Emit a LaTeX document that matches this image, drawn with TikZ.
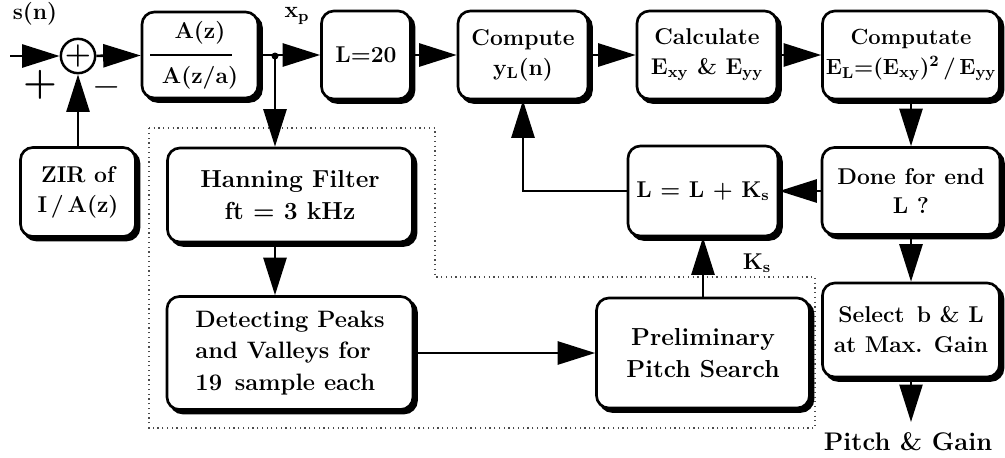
\documentclass[tikz,border=0pt]{standalone}
\usepackage{tikz}
\usetikzlibrary{arrows.meta}
\tikzset{
  blk/.style={draw, line width=1.5pt, rounded corners=7pt, fill=white,
    preaction={draw, fill=black, transform canvas={shift={(0.07cm,-0.07cm)}}},
    align=center, inner sep=1pt, font=\bfseries\fontsize{13}{17}\selectfont},
  bigtxt/.style={font=\bfseries\fontsize{14}{18}\selectfont},
  sumnode/.style={draw, circle, line width=1.4pt, minimum size=0.56cm, inner sep=0pt,
    font=\bfseries\fontsize{17}{17}\selectfont},
  flow/.style={line width=1.5pt, -{Triangle[length=0.75cm,width=0.46cm]}},
  lbl/.style={inner sep=0pt, font=\bfseries\fontsize{13}{15}\selectfont}
}
\newcommand{\sbs}[1]{\textsubscript{\fontsize{9}{9}\selectfont#1}}
\begin{document}
\begin{tikzpicture}[x=0.02cm, y=-0.02cm]
\useasboundingbox (0,0) rectangle (1005,457);
% top row
\node[sumnode] (sum) at (78,56) {+};
\node[blk, minimum width=2.32cm, minimum height=1.72cm] (afilt) at (200,55) {A(z)\\[0.3cm]A(z/a)};
\node[blk, minimum width=1.78cm, minimum height=1.76cm] (l20) at (366,55) {L=20};
\node[blk, minimum width=2.6cm, minimum height=1.76cm] (comp) at (523,55) {Compute\\y\sbs{L}(n)};
\node[blk, minimum width=2.8cm, minimum height=1.76cm] (calc) at (707,55) {Calculate\\E\sbs{xy} \& E\sbs{yy}};
\node[blk, font=\bfseries\fontsize{12.5}{17}\selectfont, minimum width=3.54cm, minimum height=1.76cm] (cmpt) at (911,55) {Computate\\E\sbs{L}=(E\sbs{xy})\textsuperscript{\fontsize{9}{9}\selectfont 2}\,/\,E\sbs{yy}};
% middle and bottom rows
\node[blk, minimum width=2.3cm, minimum height=1.78cm] (zir) at (78,192) {ZIR of\\I\,/\,A(z)};
\node[blk, bigtxt, minimum width=4.9cm, minimum height=1.88cm] (hann) at (290,195) {Hanning Filter\\ft = 3 kHz};
\node[blk, minimum width=3.0cm, minimum height=1.8cm] (lupd) at (703,191) {L = L + K\sbs{s}};
\node[blk, minimum width=3.56cm, minimum height=1.74cm] (done) at (911,191) {Done for end\\L ?};
\node[blk, bigtxt, align=left, font=\bfseries\fontsize{13.5}{18}\selectfont, minimum width=4.92cm, minimum height=2.26cm] (detect) at (290,353) {Detecting Peaks\\and Valleys for\\19 \,sample each};
\node[blk, bigtxt, minimum width=4.26cm, minimum height=2.2cm] (prelim) at (703,353) {Preliminary\\Pitch Search};
\node[blk, minimum width=3.54cm, minimum height=1.88cm] (select) at (911,330) {Select \,b \& L\\at Max. Gain};
\draw[line width=1.2pt] (afilt.center) ++(-50,0) -- ++(82,0);
\draw[dotted, line width=0.7pt, black!70] (149,128) -- (435,128) -- (435,277) -- (815,277)
  -- (815,428) -- (149,428) -- cycle;
\coordinate (in) at (10,56);
\coordinate (jct) at (275,56);
\coordinate (out) at (911,422);
\node[lbl] (sn) at (35,14) {s(n)};
\node[lbl] (xp) at (297,16) {x\sbs{p}};
\node[lbl, font=\bfseries\fontsize{22}{22}\selectfont] (plus) at (40,85) {+};
\node[lbl, font=\bfseries\fontsize{22}{22}\selectfont] (minus) at (107,87) {$-$};
\node[lbl] (ks) at (757,263) {K\sbs{s}};
\node[lbl, font=\bfseries\fontsize{14.5}{16}\selectfont] (pg) at (908,442) {Pitch \& Gain};
% connectors
\draw[flow] (in) -- (sum);
\draw[flow] (sum) -- (afilt);
\draw[flow] (afilt) -- (l20);
\fill (jct) circle (0.07cm);
\draw[flow] (jct) -- (jct |- hann.north);
\draw[flow] (l20) -- (comp);
\draw[flow] (comp) -- (calc);
\draw[flow] (calc) -- (cmpt);
\draw[flow] (cmpt) -- (done);
\draw[flow] (zir) -- (sum);
\draw[flow] (hann.south -| jct) -- (detect.north -| jct);
\draw[flow] (detect) -- (prelim);
\draw[flow] (prelim) -- (lupd);
\draw[flow] (done) -- (lupd);
\draw[flow] (lupd.west) -| (comp.south);
\draw[flow] (done) -- (select);
\draw[flow] (select) -- (out);
\end{tikzpicture}
\end{document}
